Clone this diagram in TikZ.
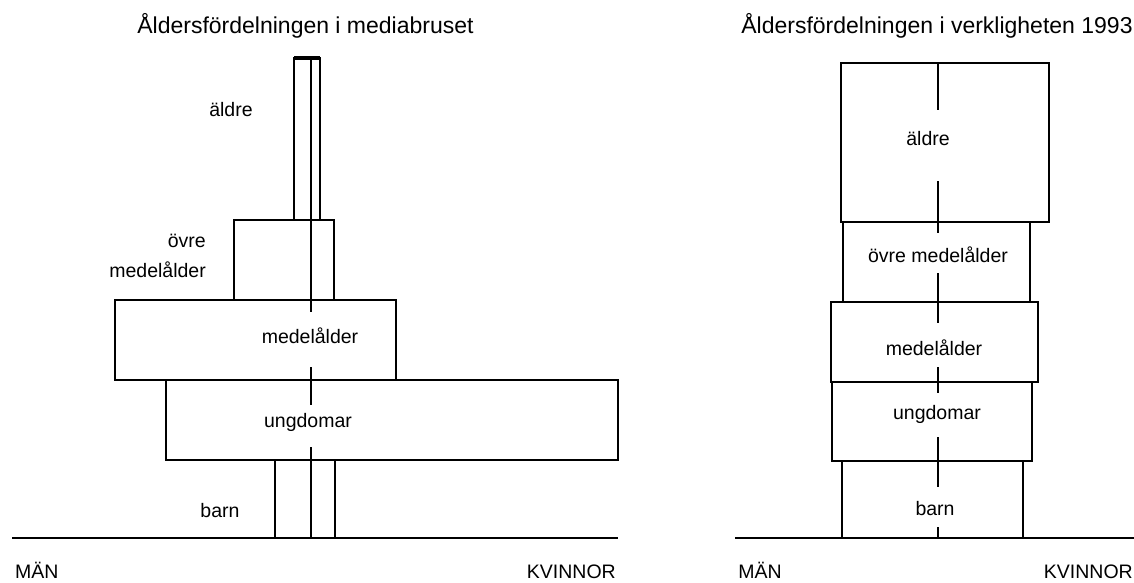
\documentclass[tikz,border=0pt]{standalone}
\usepackage{fontspec}
\setmainfont{Liberation Sans}
\begin{document}
\begin{tikzpicture}[x=1pt,y=-1pt,
  bar/.style={line width=2.5pt, line join=miter},
  axisline/.style={line width=2pt},
  groundline/.style={line width=2.8pt},
  lbl/.style={font=\fontsize{19.5}{21}\selectfont, anchor=base, inner sep=0pt},
  ttl/.style={font=\fontsize{23}{25}\selectfont, anchor=base, inner sep=0pt}]
\useasboundingbox (0,0) rectangle (1134,583);

% ---------------- left chart ----------------
\node[ttl] (tL) at (305.5,34) {Åldersfördelningen i mediabruset};
% äldre (narrow column)
\draw[bar] (294,220) -- (294,58) -- (320,58) -- (320,220);
\draw[line width=4pt] (294,58) -- (320,58);
% övre medelålder
\draw[bar] (234,300) -- (234,220) -- (334,220) -- (334,300);
% medelålder
\draw[bar] (115,300) rectangle (396,380);
% ungdomar
\draw[bar] (166,380) rectangle (618,460);
% barn
\draw[bar] (275,460) -- (275,538);
\draw[bar] (335,460) -- (335,538);
% axis
\draw[axisline] (311,58) -- (311,312);
\draw[axisline] (311,367) -- (311,405);
\draw[axisline] (311,447) -- (311,538);
% ground
\draw[groundline] (12,538) -- (618,538);
% labels
\node[lbl] (aL) at (231,117) {äldre};
\node[lbl,anchor=base east] (oL1) at (206,247) {övre};
\node[lbl,anchor=base east] (oL2) at (206,277) {medelålder};
\node[lbl] (mL) at (310,343) {medelålder};
\node[lbl] (uL) at (308,427) {ungdomar};
\node[lbl] (bL) at (220,517) {barn};
\node[lbl,anchor=base west] (manL) at (15,578) {MÄN};
\node[lbl,anchor=base east] (kvL) at (616,578) {KVINNOR};

% ---------------- right chart ----------------
\node[ttl] (tR) at (937,34) {Åldersfördelningen i verkligheten 1993};
% äldre
\draw[bar] (841,63) rectangle (1049,222);
% övre medelålder
\draw[bar] (843,222) -- (843,302);
\draw[bar] (1030,222) -- (1030,302);
% medelålder
\draw[bar] (831,302) rectangle (1038,382);
% ungdomar
\draw[bar] (832,382) rectangle (1032,461);
% barn
\draw[bar] (842,461) -- (842,538);
\draw[bar] (1023,461) -- (1023,538);
% axis
\draw[axisline] (938,63) -- (938,110);
\draw[axisline] (938,181) -- (938,233);
\draw[axisline] (938,273) -- (938,323);
\draw[axisline] (938,367) -- (938,393);
\draw[axisline] (938,437) -- (938,487);
\draw[axisline] (938,527) -- (938,538);
% ground
\draw[groundline] (735,538) -- (1134,538);
% labels
\node[lbl] (aR) at (928,145) {äldre};
\node[lbl] (oR) at (938,262) {övre medelålder};
\node[lbl] (mR) at (934,355) {medelålder};
\node[lbl] (uR) at (937,419) {ungdomar};
\node[lbl] (bR) at (935,515) {barn};
\node[lbl,anchor=base east] (manR) at (782,578) {MÄN};
\node[lbl,anchor=base east] (kvR) at (1133,578) {KVINNOR};
\end{tikzpicture}
\end{document}
